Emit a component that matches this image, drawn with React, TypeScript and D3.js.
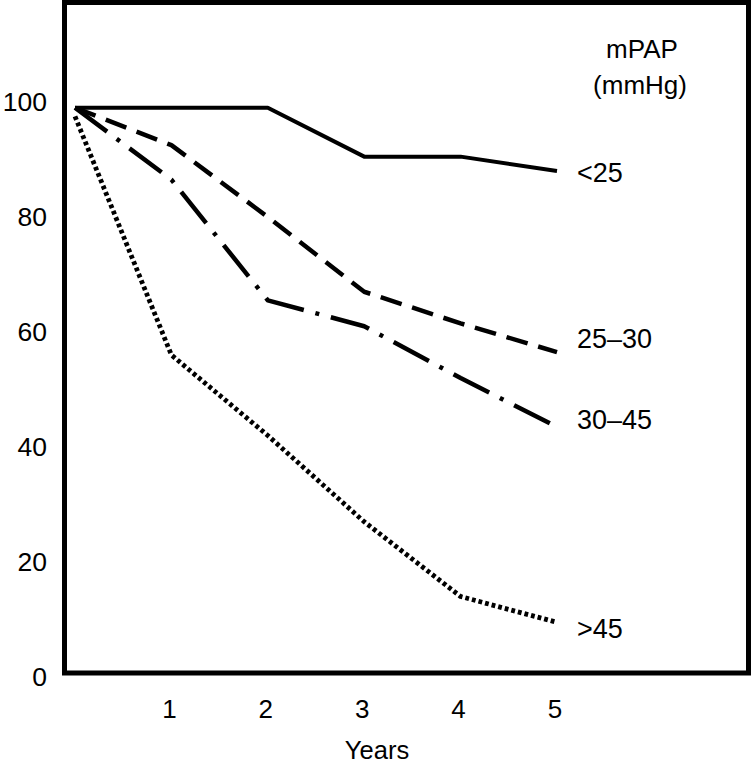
import React from "react";
import * as d3 from "d3";

const years = [0, 1, 2, 3, 4, 5];
const seriesLt25 = [99, 99, 99, 90.5, 90.5, 88];
const series25to30 = [99, 92.5, 80, 67, 61.5, 56.5];
const series30to45 = [99, 86.5, 65.5, 61, 52, 43.5];
const seriesGt45 = [97.5, 56, 42, 27, 14, 9.5];
const seriesLabels = ["<25", "25–30", "30–45", ">45"];
const yTicks = [0, 20, 40, 60, 80, 100];
const xTicks = [1, 2, 3, 4, 5];

const W = 753;
const H = 768;

export default function App() {
  const x = d3.scaleLinear().domain([0, 5]).range([75, 557]);
  const y = d3.scaleLinear().domain([0, 100]).range([677, 102]);
  const font = "'Liberation Sans', Arial, Helvetica, sans-serif";

  const all = [seriesLt25, series25to30, series30to45, seriesGt45];
  const styles = [
    { dash: "none", width: 4, cap: "butt" },
    { dash: "22 11", width: 4.5, cap: "butt" },
    { dash: "40 12 4 12", width: 4.5, cap: "butt" },
    { dash: "3.8 3", width: 4.8, cap: "butt" },
  ];
  const labelY = [173, 339, 420, 629];

  const line = d3
    .line<number>()
    .x((_, i) => x(years[i]))
    .y((d) => y(d))
    .curve(d3.curveLinear);

  return (
    <svg
      width={W}
      height={H}
      style={{ position: "absolute", left: 0, top: 0, background: "#fff" }}
      fontFamily={font}
    >
      <rect x={0} y={0} width={W} height={H} fill="#fff" />
      <rect
        x={64.5}
        y={2.5}
        width={684}
        height={670.5}
        fill="none"
        stroke="#000"
        strokeWidth={5}
      />
      {all.map((s, i) => (
        <path
          key={i}
          d={line(s) || ""}
          fill="none"
          stroke="#000"
          strokeWidth={styles[i].width}
          strokeDasharray={styles[i].dash}
          strokeLinecap={styles[i].cap as any}
          strokeLinejoin="round"
        />
      ))}
      {yTicks.map((t) => (
        <text
          key={t}
          x={47}
          y={y(t)}
          textAnchor="end"
          dominantBaseline="central"
          fontSize={26.5}
          fill="#000"
        >
          {t}
        </text>
      ))}
      {xTicks.map((t) => (
        <text
          key={t}
          x={x(t) - 2}
          y={709}
          textAnchor="middle"
          dominantBaseline="central"
          fontSize={26}
          fill="#000"
        >
          {t}
        </text>
      ))}
      <text x={377} y={759} textAnchor="middle" fontSize={25.5} fill="#000">
        Years
      </text>
      <text x={642} y={58} textAnchor="middle" fontSize={26} fill="#000">
        mPAP
      </text>
      <text x={640} y={94} textAnchor="middle" fontSize={26} fill="#000">
        (mmHg)
      </text>
      {seriesLabels.map((l, i) => (
        <text
          key={l}
          x={577}
          y={labelY[i]}
          dominantBaseline="central"
          fontSize={27}
          fill="#000"
        >
          {l}
        </text>
      ))}
    </svg>
  );
}
